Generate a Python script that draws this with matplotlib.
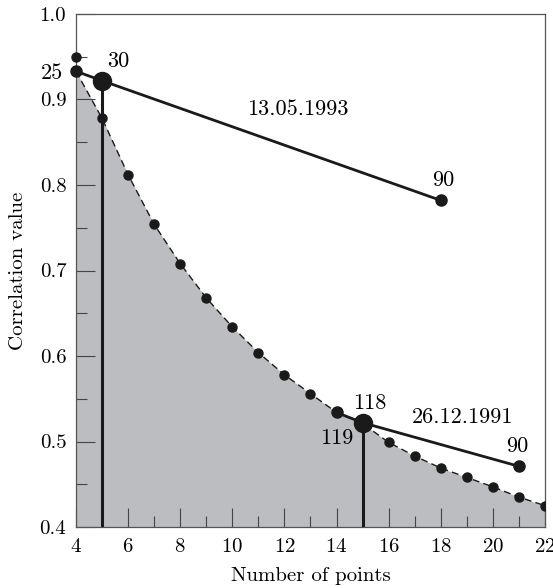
import matplotlib
matplotlib.use('Agg')
import matplotlib.pyplot as plt
from matplotlib.ticker import MultipleLocator
import numpy as np

plt.rcParams['font.family'] = ['cmr10', 'DejaVu Serif']
plt.rcParams['mathtext.fontset'] = 'cm'
plt.rcParams['axes.formatter.use_mathtext'] = True

# curve of correlation value vs number of points
points = np.arange(4, 23)
corr = [0.933, 0.878, 0.812, 0.754, 0.708, 0.668, 0.634, 0.604, 0.578, 0.556,
        0.534, 0.521, 0.499, 0.483, 0.469, 0.458, 0.447, 0.435, 0.425]
extra_x = [4]
extra_y = [0.950]

# 13.05.1993 line
line93_x = [4, 5, 18]
line93_y = [0.933, 0.922, 0.782]
# 26.12.1991 line
line91_x = [14, 15, 21]
line91_y = [0.534, 0.522, 0.471]

fig = plt.figure(figsize=(5.53, 5.88), dpi=100)
ax = fig.add_axes([0.1374, 0.1037, 0.8481, 0.8725])

ax.fill_between(points, 0.4, corr, color='#bcbdc1', lw=0, zorder=1)
ax.plot(points, corr, color='#1a1a1a', lw=1.0, ls=(0, (5, 3)), zorder=2)
ax.plot(points[1:], corr[1:], 'o', color='#1a1a1a', ms=6.5, zorder=4)
ax.plot(extra_x, extra_y, 'o', color='#1a1a1a', ms=6.5, zorder=4, clip_on=False)

ax.vlines([line93_x[1], line91_x[1]], 0.4, [line93_y[1], line91_y[1]],
          color='#1a1a1a', lw=2.2, zorder=3)

for lx, ly in [(line93_x, line93_y), (line91_x, line91_y)]:
    ax.plot(lx, ly, color='#1a1a1a', lw=2.0, zorder=3, clip_on=False)
    ax.plot([lx[0], lx[2]], [ly[0], ly[2]], 'o', color='#1a1a1a', ms=8,
            zorder=5, clip_on=False)
    ax.plot(lx[1], ly[1], 'o', color='#1a1a1a', ms=13, zorder=5)

fs = 16
ax.text(3.08, 0.931, '25', fontsize=fs, ha='center', va='center')
ax.text(5.61, 0.945, '30', fontsize=fs, ha='center', va='center')
ax.text(12.52, 0.889, '13.05.1993', fontsize=fs, ha='center', va='center')
ax.text(18.08, 0.805, '90', fontsize=fs, ha='center', va='center')
ax.text(15.28, 0.545, '118', fontsize=fs, ha='center', va='center')
ax.text(14.02, 0.504, '119', fontsize=fs, ha='center', va='center')
ax.text(18.83, 0.528, '26.12.1991', fontsize=fs, ha='center', va='center')
ax.text(20.92, 0.495, '90', fontsize=fs, ha='center', va='center')

ax.set_xlim(4, 22)
ax.set_ylim(0.4, 1.0)
ax.xaxis.set_major_locator(MultipleLocator(2))
ax.xaxis.set_minor_locator(MultipleLocator(1))
ax.yaxis.set_major_locator(MultipleLocator(0.1))
ax.yaxis.set_minor_locator(MultipleLocator(0.05))
ax.yaxis.set_major_formatter(plt.FuncFormatter(lambda v, p: '%.1f' % v))
ax.tick_params(which='both', direction='in', top=False, right=False,
               labelsize=15, color='#444444')
ax.tick_params(axis='x', pad=8)
ax.tick_params(axis='y', pad=7)
ax.tick_params(which='major', length=14, width=0.8)
ax.tick_params(which='minor', length=8, width=0.8)
for s in ax.spines.values():
    s.set_color('#555555')
    s.set_linewidth(0.9)

ax.set_xlabel('Number of points', fontsize=15, labelpad=8)
ax.set_ylabel('Correlation value', fontsize=15, labelpad=9)

fig.savefig('out.png', dpi=100)
